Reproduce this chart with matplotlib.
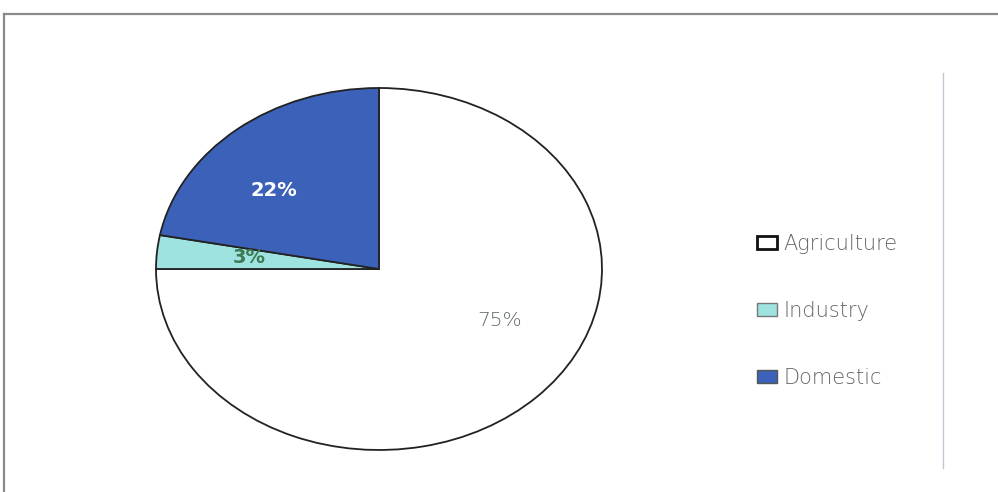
import numpy as np
import matplotlib
matplotlib.use("Agg")
import matplotlib.pyplot as plt
from matplotlib.patches import Patch
from matplotlib.lines import Line2D

labels = ["Agriculture", "Industry", "Domestic"]
values = [75, 3, 22]
colors = ["#ffffff", "#9fe3e0", "#3b62b8"]
pct_colors = ["#5c6966", "#3d7a55", "#ffffff"]
pct_weights = ["light", "bold", "bold"]

W, H = 998, 492
fig = plt.figure(figsize=(W / 100, H / 100), dpi=100)
fig.patch.set_facecolor("white")

# pie is an ellipse in the original, so axes aspect stays auto
cx, cy, rx, ry = 379, 269, 223, 181
ax = fig.add_axes([(cx - rx) / W, (H - cy - ry) / H, 2 * rx / W, 2 * ry / H])
wedges, texts, autotexts = ax.pie(
    values, colors=colors, startangle=90, counterclock=False,
    autopct="%1.0f%%", pctdistance=0.6,
    wedgeprops=dict(edgecolor="#222222", linewidth=1.3),
)
ax.set_aspect("auto")
ax.set_xlim(-1, 1)
ax.set_ylim(-1, 1)

# nudge label positions
label_pos = [(0.543, -0.287), (-0.58, 0.066), (-0.471, 0.431)]
for t, c, w, p in zip(autotexts, pct_colors, pct_weights, label_pos):
    t.set_color(c)
    t.set_fontweight(w)
    t.set_fontsize(14.5 if w == "light" else 14)
    t.set_family("DejaVu Sans")
    t.set_position(p)

handles = [Patch(facecolor=colors[0], edgecolor="#111111", linewidth=2),
           Patch(facecolor=colors[1], edgecolor="#777777", linewidth=1),
           Patch(facecolor=colors[2], edgecolor="#555555", linewidth=1)]
leg = fig.legend(handles, labels, loc="center left",
                 bbox_to_anchor=(757 / W, (H - 311) / H),
                 frameon=False, labelspacing=2.25,
                 handlelength=0.95, handleheight=0.6, handletextpad=0.3,
                 borderpad=0, borderaxespad=0,
                 prop={"family": "DejaVu Sans", "size": 15, "weight": "light"})
for txt in leg.get_texts():
    txt.set_color("#666666")

# outer frame and divider line
fig.add_artist(Line2D([4 / W, 4 / W], [0, (H - 14) / H], color="#8a8a8a", lw=1.6))
fig.add_artist(Line2D([4 / W, 1], [(H - 14) / H, (H - 14) / H], color="#8a8a8a", lw=1.6))
fig.add_artist(Line2D([943 / W, 943 / W], [(H - 468) / H, (H - 73) / H], color="#c9c2d2", lw=1))

fig.savefig("out.png", dpi=100)
